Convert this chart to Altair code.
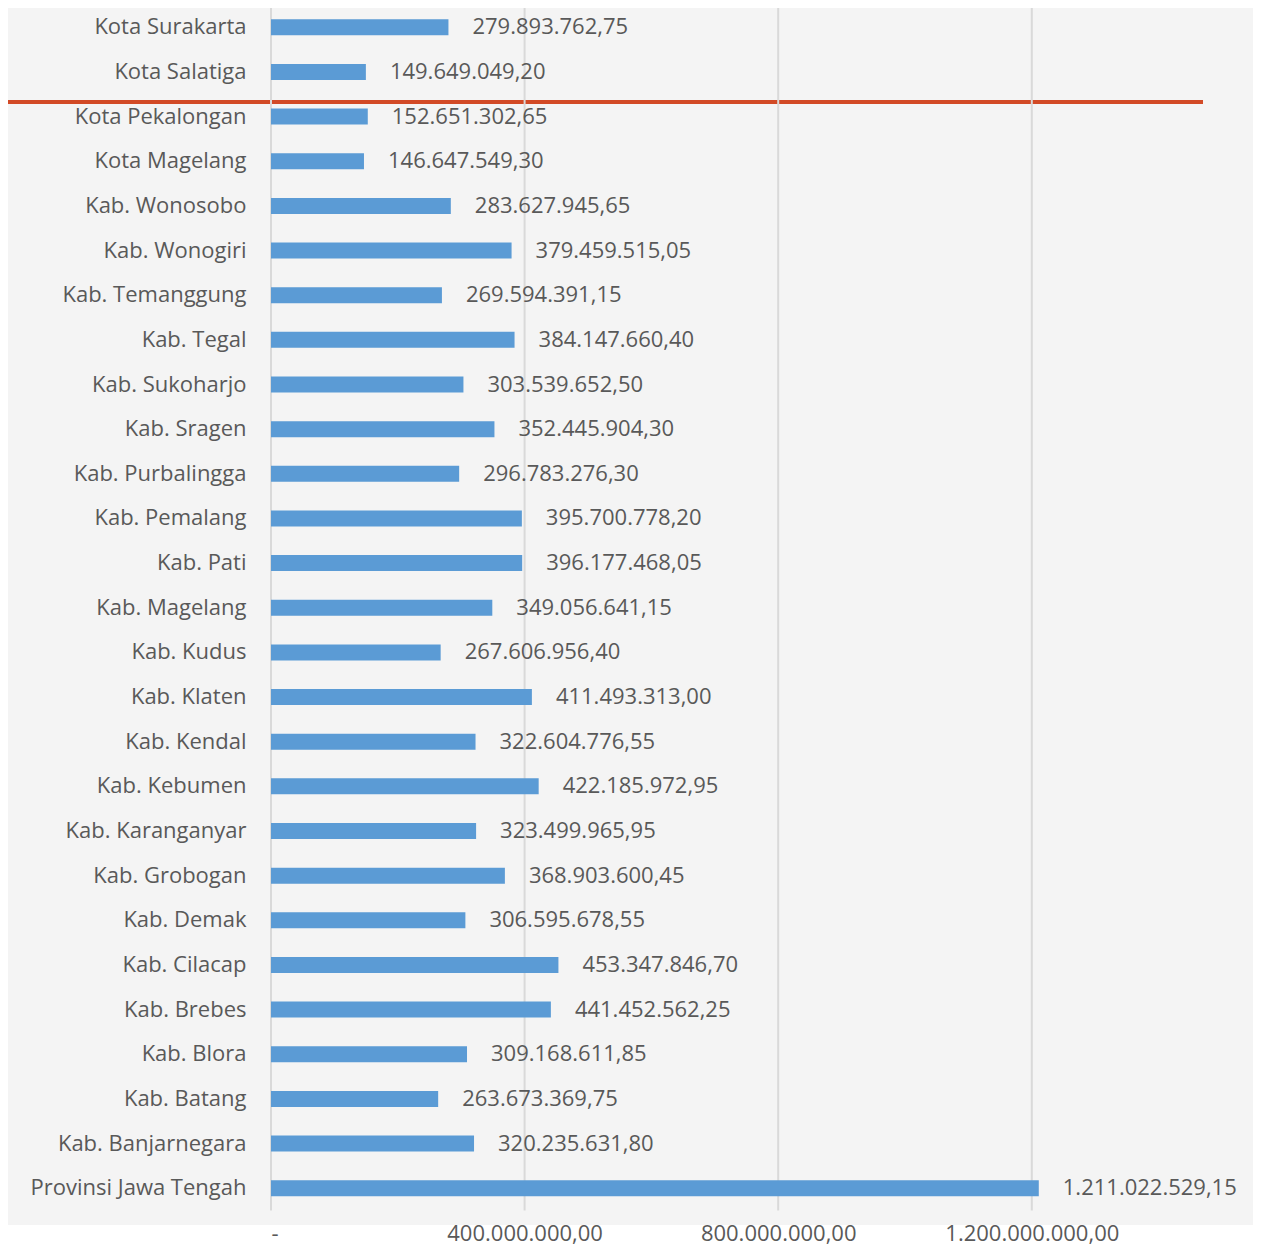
import altair as alt
import pandas as pd

categories = [
    "Kota Surakarta", "Kota Salatiga", "Kota Pekalongan", "Kota Magelang",
    "Kab. Wonosobo", "Kab. Wonogiri", "Kab. Temanggung", "Kab. Tegal",
    "Kab. Sukoharjo", "Kab. Sragen", "Kab. Purbalingga", "Kab. Pemalang",
    "Kab. Pati", "Kab. Magelang", "Kab. Kudus", "Kab. Klaten", "Kab. Kendal",
    "Kab. Kebumen", "Kab. Karanganyar", "Kab. Grobogan", "Kab. Demak",
    "Kab. Cilacap", "Kab. Brebes", "Kab. Blora", "Kab. Batang",
    "Kab. Banjarnegara", "Provinsi Jawa Tengah",
]
values = [
    279893762.75, 149649049.20, 152651302.65, 146647549.30,
    283627945.65, 379459515.05, 269594391.15, 384147660.40,
    303539652.50, 352445904.30, 296783276.30, 395700778.20,
    396177468.05, 349056641.15, 267606956.40, 411493313.00, 322604776.55,
    422185972.95, 323499965.95, 368903600.45, 306595678.55,
    453347846.70, 441452562.25, 309168611.85, 263673369.75,
    320235631.80, 1211022529.15,
]
value_labels = [
    "279.893.762,75", "149.649.049,20", "152.651.302,65", "146.647.549,30",
    "283.627.945,65", "379.459.515,05", "269.594.391,15", "384.147.660,40",
    "303.539.652,50", "352.445.904,30", "296.783.276,30", "395.700.778,20",
    "396.177.468,05", "349.056.641,15", "267.606.956,40", "411.493.313,00",
    "322.604.776,55", "422.185.972,95", "323.499.965,95", "368.903.600,45",
    "306.595.678,55", "453.347.846,70", "441.452.562,25", "309.168.611,85",
    "263.673.369,75", "320.235.631,80", "1.211.022.529,15",
]
tick_values = [0, 400000000, 800000000, 1200000000]
tick_labels = ["-", "400.000.000,00", "800.000.000,00", "1.200.000.000,00"]

df = pd.DataFrame({"cat": categories, "val": values, "lab": value_labels})
ticks_df = pd.DataFrame({"t": tick_values})

FONT = "Open Sans"
TXT = "#595959"

label_expr = " : ".join(
    f"datum.value == {v} ? '{l}'" for v, l in zip(tick_values, tick_labels)
) + " : ''"

H = 1205.5
xscale = alt.Scale(domain=[0, 1500000000], nice=False, zero=True)
yscale = alt.Scale(domain=categories, paddingInner=0, paddingOuter=0)

x_axis = alt.Axis(values=tick_values, labelExpr=label_expr, grid=False, ticks=False,
                  domain=False, title=None, labelFont=FONT, labelFontSize=22,
                  labelColor=TXT, labelPadding=30, labelBaseline="alphabetic",
                  zindex=1)
y_axis = alt.Axis(title=None, ticks=False, domain=False, grid=False, labelFont=FONT,
                  labelFontSize=22, labelColor=TXT, labelPadding=25, labelLimit=0)

one = pd.DataFrame({"a": [0]})

white_strip = alt.Chart(one).mark_rect(color="white").encode(
    x=alt.value(-280), x2=alt.value(1000), y=alt.value(1220), y2=alt.value(1270)
)

red_line = alt.Chart(one).mark_rule(color="#d24a26", strokeWidth=4).encode(
    x=alt.value(-280), x2=alt.value(932), y=alt.value(97)
)

grid = alt.Chart(ticks_df).mark_rule(color="#d9d9d9", strokeWidth=2).encode(
    x=alt.X("t:Q", scale=xscale, axis=x_axis),
    y=alt.value(-1), y2=alt.value(H),
)

bars = alt.Chart(df).mark_bar(size=16, color="#5b9bd5").encode(
    x=alt.X("val:Q", scale=xscale, axis=x_axis),
    y=alt.Y("cat:N", scale=yscale, axis=y_axis, sort=categories),
)

text = alt.Chart(df).mark_text(align="left", baseline="middle", dx=24, font=FONT,
                               fontSize=22, color=TXT).encode(
    x=alt.X("val:Q", scale=xscale, axis=x_axis),
    y=alt.Y("cat:N", scale=yscale, axis=y_axis, sort=categories),
    text="lab:N",
)

chart = alt.layer(white_strip, red_line, grid, bars, text).properties(
    width=951, height=H,
    autosize=alt.AutoSizeParams(type="none"),
    padding={"left": 263, "top": -3, "right": 31, "bottom": 37.5},
    background="#f4f4f4",
).configure_view(stroke=None)

chart.save("out.html", embed_options={"renderer": "svg", "actions": False})
